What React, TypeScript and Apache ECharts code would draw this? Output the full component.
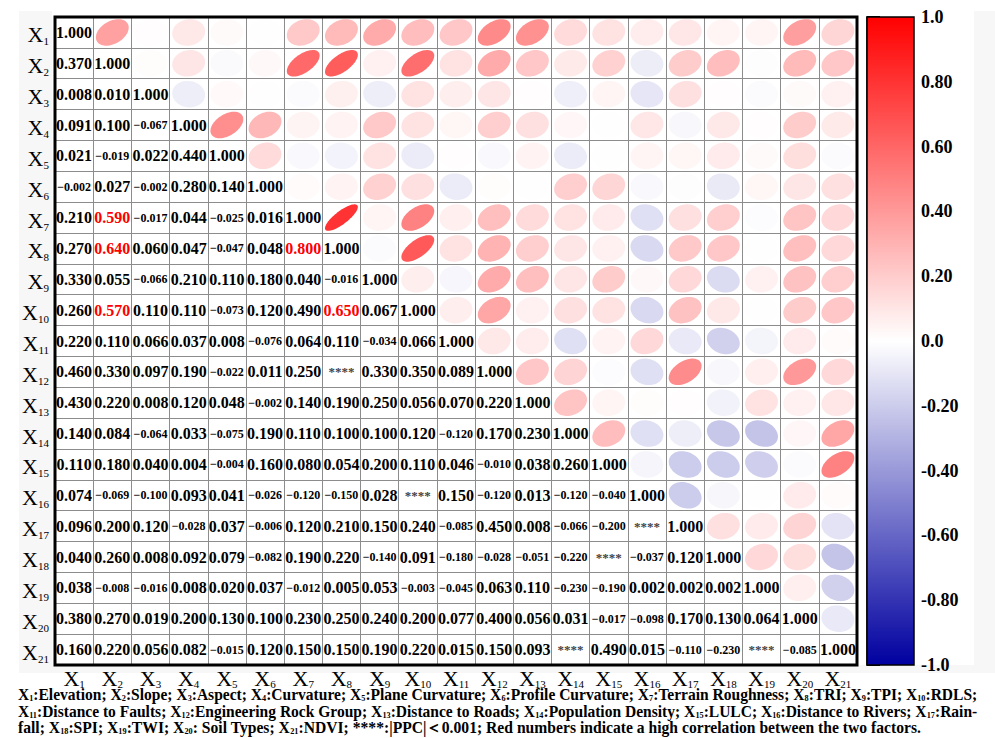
import React, { useEffect, useRef } from 'react';
import * as echarts from 'echarts';

// ---------------- DATA ----------------
const factors = ['X1', 'X2', 'X3', 'X4', 'X5', 'X6', 'X7', 'X8', 'X9', 'X10', 'X11', 'X12', 'X13', 'X14', 'X15', 'X16', 'X17', 'X18', 'X19', 'X20', 'X21'];

// Lower triangle (row Xr, columns X1..Xr); null = "****" (|PPC| < 0.001)
const lowerRows: (number | null)[][] = [
  [1.0],
  [0.37, 1.0],
  [0.008, 0.01, 1.0],
  [0.091, 0.1, -0.067, 1.0],
  [0.021, -0.019, 0.022, 0.44, 1.0],
  [-0.002, 0.027, -0.002, 0.28, 0.14, 1.0],
  [0.21, 0.59, -0.017, 0.044, -0.025, 0.016, 1.0],
  [0.27, 0.64, 0.06, 0.047, -0.047, 0.048, 0.8, 1.0],
  [0.33, 0.055, -0.066, 0.21, 0.11, 0.18, 0.04, -0.016, 1.0],
  [0.26, 0.57, 0.11, 0.11, -0.073, 0.12, 0.49, 0.65, 0.067, 1.0],
  [0.22, 0.11, 0.066, 0.037, 0.008, -0.076, 0.064, 0.11, -0.034, 0.066, 1.0],
  [0.46, 0.33, 0.097, 0.19, -0.022, 0.011, 0.25, null, 0.33, 0.35, 0.089, 1.0],
  [0.43, 0.22, 0.008, 0.12, 0.048, -0.002, 0.14, 0.19, 0.25, 0.056, 0.07, 0.22, 1.0],
  [0.14, 0.084, -0.064, 0.033, -0.075, 0.19, 0.11, 0.1, 0.1, 0.12, -0.12, 0.17, 0.23, 1.0],
  [0.11, 0.18, 0.04, 0.004, -0.004, 0.16, 0.08, 0.054, 0.2, 0.11, 0.046, -0.01, 0.038, 0.26, 1.0],
  [0.074, -0.069, -0.1, 0.093, 0.041, -0.026, -0.12, -0.15, 0.028, null, 0.15, -0.12, 0.013, -0.12, -0.04, 1.0],
  [0.096, 0.2, 0.12, -0.028, 0.037, -0.006, 0.12, 0.21, 0.15, 0.24, -0.085, 0.45, 0.008, -0.066, -0.2, null, 1.0],
  [0.04, 0.26, 0.008, 0.092, 0.079, -0.082, 0.19, 0.22, -0.14, 0.091, -0.18, -0.028, -0.051, -0.22, null, -0.037, 0.12, 1.0],
  [0.038, -0.008, -0.016, 0.008, 0.02, 0.037, -0.012, 0.005, 0.053, -0.003, -0.045, 0.063, 0.11, -0.23, -0.19, 0.002, 0.002, 0.002, 1.0],
  [0.38, 0.27, 0.019, 0.2, 0.13, 0.1, 0.23, 0.25, 0.24, 0.2, 0.077, 0.4, 0.056, 0.031, -0.017, -0.098, 0.17, 0.13, 0.064, 1.0],
  [0.16, 0.22, 0.056, 0.082, -0.015, 0.12, 0.15, 0.15, 0.19, 0.22, 0.015, 0.15, 0.093, null, 0.49, 0.015, -0.11, -0.23, null, -0.085, 1.0],
];

// Upper-triangle ellipses that differ from the mirrored number: [row, col, value] (1-based)
const ellipseOverrides: [number, number, number][] = [
  [8, 12, 0.3],
  [10, 16, -0.15],
  [14, 21, 0.35],
  [15, 18, -0.2],
  [16, 17, -0.2],
  [16, 20, 0.08],
  [17, 19, 0.08],
  [18, 19, 0.15],
  [19, 21, -0.18],
];

const highCorrThreshold = 0.5;

const footerLines = [
  'X{s|1}:Elevation; X{s|2}:Slope; X{s|3}:Aspect; X{s|4}:Curvature; X{s|5}:Plane Curvature; X{s|6}:Profile Curvature; X{s|7}:Terrain Roughness; X{s|8}:TRI; X{s|9}:TPI; X{s|10}:RDLS;',
  'X{s|11}:Distance to Faults; X{s|12}:Engineering Rock Group; X{s|13}:Distance to Roads; X{s|14}:Population Density; X{s|15}:LULC; X{s|16}:Distance to Rivers; X{s|17}:Rain-',
  'fall; X{s|18}:SPI; X{s|19}:TWI; X{s|20}: Soil Types; X{s|21}:NDVI; ****:|PPC|＜0.001; Red numbers indicate a high correlation between the two factors.',
];

// ---------------- HELPERS ----------------
const SERIF = '"Liberation Serif", "Times New Roman", "DejaVu Serif", serif';

function corrColor(v: number): string {
  const t = Math.max(-1, Math.min(1, v));
  if (t >= 0) {
    const g = Math.round(255 * (1 - t));
    return `rgb(255,${g},${g})`;
  }
  const a = -t;
  const rg = Math.round(255 * (1 - a));
  const b = Math.round(255 - 95 * a);
  return `rgb(${rg},${rg},${b})`;
}

function measureRich(line: string, mainSize: number, subSize: number): number {
  const canvas = document.createElement('canvas');
  const ctx = canvas.getContext('2d');
  if (!ctx) return line.length * mainSize * 0.45;
  let w = 0;
  const parts = line.split(/(\{s\|\d+\})/);
  for (const p of parts) {
    if (!p) continue;
    const m = p.match(/^\{s\|(\d+)\}$/);
    if (m) {
      ctx.font = `bold ${subSize}px ${SERIF}`;
      w += ctx.measureText(m[1]).width;
    } else {
      ctx.font = `bold ${mainSize}px ${SERIF}`;
      w += ctx.measureText(p).width;
    }
  }
  return w;
}

export default function App() {
  const ref = useRef<HTMLDivElement>(null);

  useEffect(() => {
    if (!ref.current) return;
    const chart = echarts.init(ref.current, undefined, { renderer: 'svg' });

    const n = factors.length;
    const textData: number[][] = [];
    const ellipseData: number[][] = [];
    for (let r = 0; r < n; r++) {
      for (let c = 0; c < n; c++) {
        if (c <= r) {
          const v = lowerRows[r][c];
          textData.push([c, r, v === null ? 0 : v, v === null ? 1 : 0]);
        } else {
          const ov = ellipseOverrides.find((o) => o[0] === r + 1 && o[1] === c + 1);
          const mv = lowerRows[c][r];
          const v = ov ? ov[2] : mv === null ? 0 : mv;
          ellipseData.push([c, r, v]);
        }
      }
    }

    const axisRich = {
      s: { fontSize: 11, fontFamily: SERIF, color: '#000', verticalAlign: 'bottom', lineHeight: 9 },
    };
    const labelFmt = (val: string) => `X{s|${val.slice(1)}}`;

    const mainSize = 17;
    const subSize = 9;
    const targets = [959, 959, 903];
    const lineY = [694, 711, 727];
    const footerGraphics = footerLines.map((line, i) => {
      const w = measureRich(line, mainSize, subSize);
      const sx = w > 0 ? targets[i] / w : 1;
      return {
        type: 'text',
        x: 18,
        y: lineY[i],
        scaleX: sx,
        z: 50,
        style: {
          text: line,
          fontSize: mainSize,
          fontWeight: 'bold',
          fontFamily: SERIF,
          fill: '#000',
          lineHeight: 17,
          align: 'left',
          verticalAlign: 'middle',
          rich: {
            s: { fontSize: subSize, fontWeight: 'bold', fontFamily: SERIF, fill: '#000', verticalAlign: 'bottom', lineHeight: 8 },
          },
        },
      };
    });

    const option: any = {
      animation: false,
      backgroundColor: 'transparent',
      grid: [
        { left: 55, top: 17, width: 802, height: 648, show: true, backgroundColor: '#ffffff', borderWidth: 0 },
        { left: 867, top: 17, width: 47, height: 648 },
      ],
      xAxis: [
        {
          type: 'category',
          gridIndex: 0,
          data: factors,
          position: 'bottom',
          axisLine: { show: false },
          axisTick: { show: false },
          splitLine: { show: true, interval: 0, lineStyle: { color: '#8c8c8c', width: 1 } },
          axisLabel: {
            interval: 0,
            margin: 2,
            formatter: labelFmt,
            fontFamily: SERIF,
            fontSize: 22,
            color: '#000',
            lineHeight: 22,
            rich: axisRich,
          },
        },
        { type: 'value', gridIndex: 1, min: 0, max: 1, show: false },
      ],
      yAxis: [
        {
          type: 'category',
          gridIndex: 0,
          data: factors,
          inverse: true,
          axisLine: { show: false },
          axisTick: { show: false },
          splitLine: { show: true, interval: 0, lineStyle: { color: '#8c8c8c', width: 1 } },
          axisLabel: {
            interval: 0,
            margin: 6,
            padding: [5, 0, 0, 0],
            formatter: labelFmt,
            fontFamily: SERIF,
            fontSize: 22,
            color: '#000',
            lineHeight: 24,
            rich: axisRich,
          },
        },
        {
          type: 'value',
          gridIndex: 1,
          min: -1,
          max: 1,
          interval: 0.2,
          position: 'right',
          axisLine: { show: true, lineStyle: { color: '#000', width: 1.5 } },
          axisTick: { show: true, inside: false, length: 13, lineStyle: { color: '#000', width: 2 } },
          splitLine: { show: false },
          axisLabel: {
            margin: 7,
            fontFamily: SERIF,
            fontWeight: 'bold',
            fontSize: 18,
            color: '#000',
            formatter: (v: number) => {
              if (Math.abs(v) < 1e-9) return '0.0';
              if (Math.abs(Math.abs(v) - 1) < 1e-9) return v.toFixed(1);
              return v.toFixed(2);
            },
          },
        },
      ],
      graphic: [
        { type: 'rect', z: -10, silent: true, shape: { x: 19, y: 11, width: 976, height: 662 }, style: { fill: '#f7f7f7' } },
        { type: 'rect', z: -9, silent: true, shape: { x: 52, y: 11, width: 922, height: 654 }, style: { fill: '#ffffff' } },
        { type: 'rect', z: 100, silent: true, shape: { x: 55, y: 17, width: 802, height: 648 }, style: { fill: 'none', stroke: '#000', lineWidth: 3 } },
        ...footerGraphics,
      ],
      series: [
        {
          type: 'custom',
          name: 'ellipses',
          xAxisIndex: 0,
          yAxisIndex: 0,
          data: ellipseData,
          renderItem: (params: any, api: any) => {
            const c = api.value(0);
            const r = api.value(1);
            const v = api.value(2);
            const p = api.coord([c, r]);
            const s = api.size([1, 1]);
            const d = Math.acos(Math.max(-0.995, Math.min(0.995, v)));
            const pts: number[][] = [];
            const k = 0.86;
            for (let i = 0; i < 72; i++) {
              const t = (i / 72) * Math.PI * 2;
              pts.push([p[0] + Math.cos(t + d / 2) * (s[0] / 2) * k, p[1] - Math.cos(t - d / 2) * (s[1] / 2) * k]);
            }
            return { type: 'polygon', shape: { points: pts }, style: { fill: corrColor(v) } };
          },
        },
        {
          type: 'custom',
          name: 'values',
          xAxisIndex: 0,
          yAxisIndex: 0,
          data: textData,
          renderItem: (params: any, api: any) => {
            const c = api.value(0);
            const r = api.value(1);
            const v = api.value(2);
            const star = api.value(3);
            const p = api.coord([c, r]);
            let text: string;
            let size = 16;
            let fill = '#000';
            if (star === 1) {
              text = '****';
              size = 13;
              fill = '#444';
            } else if (v < 0) {
              text = '\u2212' + Math.abs(v).toFixed(3);
              size = 12;
            } else {
              text = v.toFixed(3);
              if (c !== r && v >= highCorrThreshold) fill = '#ff0000';
            }
            return {
              type: 'text',
              x: p[0],
              y: p[1],
              style: {
                text,
                fill,
                fontSize: size,
                fontWeight: 'bold',
                fontFamily: SERIF,
                align: 'center',
                verticalAlign: 'middle',
              },
            };
          },
        },
        {
          type: 'custom',
          name: 'colorbar',
          xAxisIndex: 1,
          yAxisIndex: 1,
          data: [[0, -1, 1]],
          renderItem: (params: any, api: any) => {
            const tl = api.coord([0, api.value(2)]);
            const br = api.coord([1, api.value(1)]);
            return {
              type: 'rect',
              shape: { x: tl[0], y: tl[1], width: br[0] - tl[0], height: br[1] - tl[1] },
              style: {
                fill: new echarts.graphic.LinearGradient(0, 0, 0, 1, [
                  { offset: 0, color: 'rgb(255,0,0)' },
                  { offset: 0.5, color: '#ffffff' },
                  { offset: 1, color: 'rgb(0,0,160)' },
                ]),
                stroke: '#000',
                lineWidth: 1.5,
              },
            };
          },
        },
      ],
    };

    chart.setOption(option);
    return () => {
      chart.dispose();
    };
  }, []);

  return (
    <div
      ref={ref}
      style={{ position: 'fixed', left: 0, top: 0, width: '995px', height: '738px', background: '#ffffff' }}
    />
  );
}
